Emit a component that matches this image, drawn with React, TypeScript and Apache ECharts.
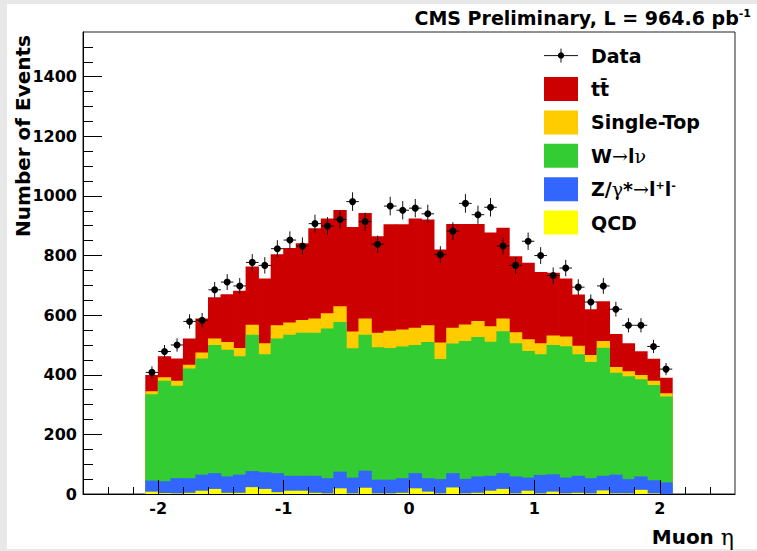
import { useEffect, useRef } from "react";
import * as echarts from "echarts";

// Muon pseudorapidity: 42 bins of width 0.1 covering -2.1 .. 2.1
const ETA_LOW = -2.1;
const ETA_BIN = 0.1;

// Expected events per bin, per process (stacked bottom to top)
const qcd = [8, 3, 2, 4, 11, 17, 4, 4, 23, 17, 6, 11, 11, 4, 2, 19, 2, 21, 2, 2, 4, 19, 8, 2, 22, 2, 4, 11, 17, 2, 11, 2, 8, 2, 4, 2, 12, 2, 2, 14, 2, 0];
const zll = [37, 40, 51, 49, 54, 53, 55, 61, 54, 56, 64, 50, 50, 57, 51, 56, 53, 57, 46, 46, 49, 51, 45, 48, 48, 49, 55, 50, 53, 57, 44, 62, 58, 53, 57, 51, 49, 63, 48, 45, 44, 39];
const wlnu = [290, 337, 310, 368, 390, 430, 425, 397, 457, 396, 452, 473, 480, 480, 502, 502, 434, 456, 444, 442, 442, 430, 457, 403, 435, 462, 468, 450, 476, 447, 425, 405, 434, 441, 408, 390, 430, 342, 345, 326, 320, 288];
const singleTop = [10, 12, 17, 13, 20, 22, 26, 28, 34, 37, 44, 41, 43, 48, 51, 53, 56, 55, 49, 58, 57, 58, 56, 55, 53, 56, 53, 52, 43, 37, 39, 37, 32, 32, 28, 23, 22, 19, 17, 14, 14, 11];
const ttbar = [54, 70, 75, 88, 114, 138, 160, 192, 195, 217, 238, 250, 257, 303, 318, 323, 351, 354, 324, 357, 353, 366, 355, 312, 348, 337, 326, 314, 304, 255, 257, 239, 210, 195, 172, 154, 134, 111, 94, 80, 74, 52];

// Observed events per bin
const dataCounts = [408, 478, 500, 579, 583, 685, 711, 698, 777, 767, 823, 852, 832, 907, 899, 921, 981, 914, 838, 966, 952, 959, 940, 803, 882, 975, 937, 962, 832, 767, 848, 800, 733, 758, 694, 644, 698, 620, 566, 566, 495, 419];

// Axis ticks
const xMajor = [-2, -1, 0, 1, 2];
const xMinorStep = 0.2;
const yMajor = [0, 200, 400, 600, 800, 1000, 1200, 1400];
const yMinorStep = 50;
const X_MIN = -2.6;
const X_MAX = 2.6;
const Y_MAX = 1550;

const FONT = '"DejaVu Sans", "Liberation Sans", Arial, sans-serif';
const SYM = '"DejaVu Serif", "Liberation Serif", serif';

const layers = [
  { name: "QCD", values: qcd, color: "#ffff00" },
  { name: "Z/γ*→l+l-", values: zll, color: "#3366ff" },
  { name: "W→lν", values: wlnu, color: "#33cc33" },
  { name: "Single-Top", values: singleTop, color: "#ffcc00" },
  { name: "tt̄", values: ttbar, color: "#cc0000" },
];

function buildOption() {
  const nBins = dataCounts.length;
  const lo = (i: number) => ETA_LOW + i * ETA_BIN;

  // running sums give the top edge of each stacked layer
  let running = new Array(nBins).fill(0);
  const tops = layers.map((l) => {
    running = running.map((v, i) => v + l.values[i]);
    return running;
  });

  // painted back to front: tallest cumulative layer first
  const histSeries = layers
    .map((l, k) => ({
      type: "custom",
      name: l.name,
      z: 2,
      clip: true,
      encode: { x: [0, 1], y: 2 },
      data: tops[k].map((top, i) => [lo(i), lo(i) + ETA_BIN, top]),
      renderItem: (_p: any, api: any) => {
        const a = api.coord([api.value(0), api.value(2)]);
        const b = api.coord([api.value(1), 0]);
        return {
          type: "rect",
          shape: { x: a[0] - 0.4, y: a[1], width: b[0] - a[0] + 0.8, height: b[1] - a[1] },
          style: { fill: l.color },
        };
      },
    }))
    .reverse();

  const dataSeries = {
    type: "custom",
    name: "Data",
    z: 6,
    encode: { x: 0, y: 1 },
    data: dataCounts.map((n, i) => [lo(i) + ETA_BIN / 2, n]),
    renderItem: (_p: any, api: any) => {
      const x = api.value(0);
      const n = api.value(1);
      const err = Math.sqrt(n);
      const c = api.coord([x, n]);
      const xl = api.coord([x - ETA_BIN / 2, n])[0];
      const xr = api.coord([x + ETA_BIN / 2, n])[0];
      const yt = api.coord([x, n + err])[1];
      const yb = api.coord([x, n - err])[1];
      const st = { stroke: "#111", lineWidth: 1 };
      return {
        type: "group",
        children: [
          { type: "line", shape: { x1: xl, y1: c[1], x2: xr, y2: c[1] }, style: st },
          { type: "line", shape: { x1: c[0], y1: yt, x2: c[0], y2: yb }, style: st },
          { type: "circle", shape: { cx: c[0], cy: c[1], r: 3.5 }, style: { fill: "#000" } },
        ],
      };
    },
  };

  const xMinor: number[] = [];
  for (let k = Math.ceil(X_MIN / xMinorStep); k <= Math.floor(X_MAX / xMinorStep); k++) {
    const v = Math.round(k * xMinorStep * 10) / 10;
    if (!xMajor.includes(v) && v > X_MIN && v < X_MAX) xMinor.push(v);
  }
  const yMinor: number[] = [];
  for (let v = yMinorStep; v < Y_MAX; v += yMinorStep) {
    if (!yMajor.includes(v)) yMinor.push(v);
  }

  const tickLabel = {
    color: "#000",
    fontFamily: FONT,
    fontWeight: "bold",
    fontSize: 16,
    formatter: (v: number) => String(v),
  };
  const black = { color: "#000", width: 1 };

  // legend rows
  const lgX = 544;
  const lgTextX = 591;
  const row0 = 55.6;
  const rowStep = 33.4;
  const legendRich = {
    b: { fontFamily: FONT, fontWeight: "bold", fontSize: 19, fill: "#000" },
    s: { fontFamily: SYM, fontWeight: "normal", fontSize: 19, fill: "#000" },
    sup: { fontFamily: FONT, fontWeight: "bold", fontSize: 11, fill: "#000", verticalAlign: "top", padding: [0, 0, 8, 0] },
  };
  const legendTexts = [
    "{b|Data}",
    "{b|tt\u0304}",
    "{b|Single-Top}",
    "{b|W}{s|→}{b|l}{s|ν}",
    "{b|Z/}{s|γ}{b|*}{s|→}{b|l}{sup|+}{b|l}{sup|-}",
    "{b|QCD}",
  ];
  const boxLayers = [...layers].reverse();

  const graphics: any[] = [
    { type: "rect", z: -10, silent: true, shape: { x: 7, y: 4, width: 750, height: 545 }, style: { fill: "#ffffff" } },
    {
      type: "text",
      x: 751,
      y: 18,
      style: {
        text: "{m|CMS Preliminary, L = 964.6 pb}{sup|-1}",
        align: "right",
        textAlign: "right",
        verticalAlign: "middle",
        textVerticalAlign: "middle",
        rich: {
          m: { fontFamily: FONT, fontWeight: "bold", fontSize: 19, fill: "#000" },
          sup: { fontFamily: FONT, fontWeight: "bold", fontSize: 11, fill: "#000", verticalAlign: "top", padding: [0, 0, 10, 0] },
        },
      },
    },
    {
      type: "text",
      x: 23,
      y: 35,
      rotation: Math.PI / 2,
      style: {
        text: "Number of Events",
        font: `bold 20px ${FONT}`,
        fill: "#000",
        align: "right",
        textAlign: "right",
        verticalAlign: "middle",
        textVerticalAlign: "middle",
      },
    },
    {
      type: "text",
      x: 734,
      y: 537,
      style: {
        text: "{b|Muon }{g|η}",
        align: "right",
        textAlign: "right",
        verticalAlign: "middle",
        textVerticalAlign: "middle",
        rich: {
          b: { fontFamily: FONT, fontWeight: "bold", fontSize: 20, fill: "#000" },
          g: { fontFamily: SYM, fontWeight: "normal", fontSize: 22, fill: "#000" },
        },
      },
    },
    // Data marker in the legend
    { type: "line", shape: { x1: lgX, y1: row0, x2: lgX + 34, y2: row0 }, style: { stroke: "#111", lineWidth: 1 } },
    { type: "line", shape: { x1: lgX + 17, y1: row0 - 7, x2: lgX + 17, y2: row0 + 7 }, style: { stroke: "#111", lineWidth: 1 } },
    { type: "circle", shape: { cx: lgX + 17, cy: row0, r: 3.2 }, style: { fill: "#000" } },
  ];
  boxLayers.forEach((l, k) => {
    const cy = row0 + rowStep * (k + 1);
    graphics.push({ type: "rect", shape: { x: lgX, y: cy - 12, width: 34, height: 24 }, style: { fill: l.color } });
  });
  legendTexts.forEach((t, k) => {
    graphics.push({
      type: "text",
      x: lgTextX,
      y: row0 + rowStep * k,
      style: {
        text: t,
        rich: legendRich,
        align: "left",
        textAlign: "left",
        verticalAlign: "middle",
        textVerticalAlign: "middle",
      },
    });
  });

  return {
    animation: false,
    backgroundColor: "#e8e8e8",
    grid: {
      left: 83,
      right: 22,
      top: 32,
      bottom: 57,
      show: true,
      borderColor: "#222",
      borderWidth: 1,
      backgroundColor: "transparent",
      outerBoundsMode: "none",
    },
    xAxis: [
      {
        type: "value",
        min: X_MIN,
        max: X_MAX,
        position: "bottom",
        z: 5,
        axisLine: { show: true, onZero: false, lineStyle: black },
        axisTick: { show: true, inside: true, length: 14, customValues: xMajor, lineStyle: black },
        axisLabel: { ...tickLabel, customValues: xMajor, margin: 6 },
        splitLine: { show: false },
      },
      {
        type: "value",
        min: X_MIN,
        max: X_MAX,
        position: "bottom",
        z: 5,
        axisLine: { show: false, onZero: false },
        axisTick: { show: true, inside: true, length: 7, customValues: xMinor, lineStyle: black },
        axisLabel: { show: false },
        splitLine: { show: false },
      },
    ],
    yAxis: [
      {
        type: "value",
        min: 0,
        max: Y_MAX,
        position: "left",
        z: 5,
        axisLine: { show: true, onZero: false, lineStyle: black },
        axisTick: { show: true, inside: true, length: 19, customValues: yMajor, lineStyle: black },
        axisLabel: { ...tickLabel, customValues: yMajor, margin: 6 },
        splitLine: { show: false },
      },
      {
        type: "value",
        min: 0,
        max: Y_MAX,
        position: "left",
        z: 5,
        axisLine: { show: false, onZero: false },
        axisTick: { show: true, inside: true, length: 10, customValues: yMinor, lineStyle: black },
        axisLabel: { show: false },
        splitLine: { show: false },
      },
    ],
    series: [...histSeries, dataSeries],
    graphic: graphics,
  };
}

export default function App() {
  const ref = useRef<HTMLDivElement>(null);
  useEffect(() => {
    document.body.style.margin = "0";
    const chart = echarts.init(ref.current!, null, { renderer: "svg" });
    chart.setOption(buildOption() as any);
    return () => chart.dispose();
  }, []);
  return <div ref={ref} style={{ width: 757, height: 551 }} />;
}
